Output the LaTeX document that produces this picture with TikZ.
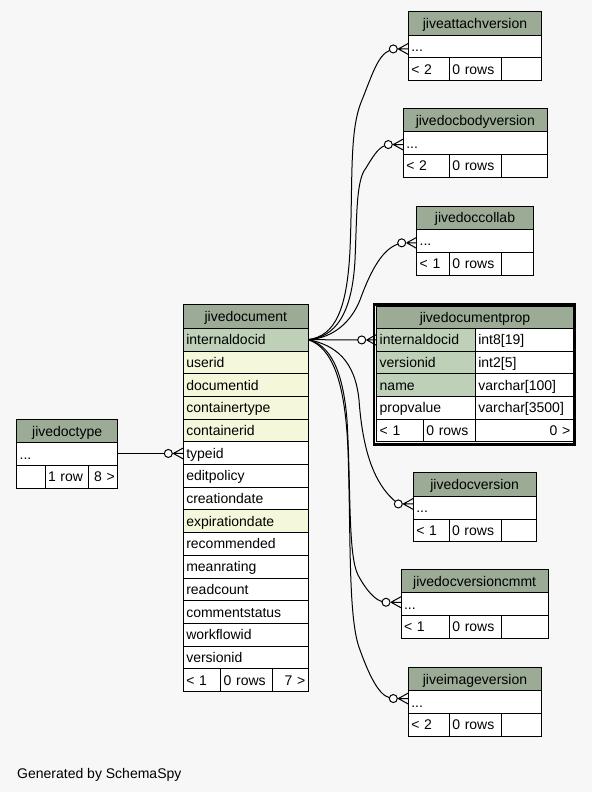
\documentclass[tikz,border=0pt]{standalone}
\usepackage{fontspec}
\setmainfont{Liberation Sans}
\usetikzlibrary{calc,positioning}
\definecolor{headgreen}{HTML}{9BAB96}
\definecolor{keygreen}{HTML}{BED1B8}
\definecolor{idxyellow}{HTML}{F4F7DA}
\definecolor{bggray}{HTML}{F7F7F7}
\newcommand{\crowfoot}[1]{\draw (#1.east) ++(1,0) -- ++(10,-5.5) (#1.east) ++(1,0) -- ++(10,0) (#1.east) ++(1,0) -- ++(10,5.5);}

\begin{document}
\begin{tikzpicture}[x=1pt,y=-1pt,line width=1pt,
  cell/.style={draw,rectangle,anchor=north west,inner xsep=3pt,inner ysep=0pt,outer sep=0pt,
    minimum height=22.7pt,text height=12pt,text depth=2pt,align=left,
    font=\fontsize{14}{16}\selectfont,fill=white},
  head/.style={cell,fill=headgreen,align=center,minimum height=23.6pt},
  pk/.style={fill=keygreen},
  idx/.style={fill=idxyellow},
  odot/.style={draw,circle,fill=white,inner sep=0pt,outer sep=0pt,minimum size=8pt}]
\fill[bggray] (0,0) rectangle (592,792);
\useasboundingbox (0,0) rectangle (592,792);
% jivedoctype
\node[head,text width=95pt] (type) at (16.7,419.3) {jivedoctype};
\node[cell,text width=95pt] (type-row) at (type.south west) {...};
\node[cell,text width=22.3pt] (type-f1) at (type-row.south west) {};
\node[cell,text width=37.3pt] (type-f2) at (type-f1.north east) {1 row};
\node[cell,text width=23.4pt,align=right] (type-f3) at (type-f2.north east) {8 >};
% jivedocument
\node[head,text width=119pt] (doc) at (183.3,304.7) {jivedocument};
\node[cell,pk,text width=119pt] (doc-internaldocid) at (doc.south west) {internaldocid};
\node[cell,idx,text width=119pt] (doc-userid) at (doc-internaldocid.south west) {userid};
\node[cell,idx,text width=119pt] (doc-documentid) at (doc-userid.south west) {documentid};
\node[cell,idx,text width=119pt] (doc-containertype) at (doc-documentid.south west) {containertype};
\node[cell,idx,text width=119pt] (doc-containerid) at (doc-containertype.south west) {containerid};
\node[cell,text width=119pt] (doc-typeid) at (doc-containerid.south west) {typeid};
\node[cell,text width=119pt] (doc-editpolicy) at (doc-typeid.south west) {editpolicy};
\node[cell,text width=119pt] (doc-creationdate) at (doc-editpolicy.south west) {creationdate};
\node[cell,idx,text width=119pt] (doc-expirationdate) at (doc-creationdate.south west) {expirationdate};
\node[cell,text width=119pt] (doc-recommended) at (doc-expirationdate.south west) {recommended};
\node[cell,text width=119pt] (doc-meanrating) at (doc-recommended.south west) {meanrating};
\node[cell,text width=119pt] (doc-readcount) at (doc-meanrating.south west) {readcount};
\node[cell,text width=119pt] (doc-commentstatus) at (doc-readcount.south west) {commentstatus};
\node[cell,text width=119pt] (doc-workflowid) at (doc-commentstatus.south west) {workflowid};
\node[cell,text width=119pt] (doc-versionid) at (doc-workflowid.south west) {versionid};
\node[cell,text width=31.4pt] (doc-f1) at (doc-versionid.south west) {< 1};
\node[cell,text width=46pt] (doc-f2) at (doc-f1.north east) {0 rows};
\node[cell,text width=29.6pt,align=right] (doc-f3) at (doc-f2.north east) {7 >};
% jivedocumentprop
\node[head,text width=190.6pt,minimum height=22.3pt] (prop) at (376.7,306) {jivedocumentprop};
\node[cell,pk,text width=92.6pt] (prop-internaldocid) at (prop.south west) {internaldocid};
\node[cell,text width=92pt] at (prop-internaldocid.north east) {int8[19]};
\node[cell,pk,text width=92.6pt] (prop-versionid) at (prop-internaldocid.south west) {versionid};
\node[cell,text width=92pt] at (prop-versionid.north east) {int2[5]};
\node[cell,pk,text width=92.6pt] (prop-name) at (prop-versionid.south west) {name};
\node[cell,text width=92pt] at (prop-name.north east) {varchar[100]};
\node[cell,text width=92.6pt] (prop-propvalue) at (prop-name.south west) {propvalue};
\node[cell,text width=92pt] at (prop-propvalue.north east) {varchar[3500]};
\node[cell,text width=40.6pt] (prop-f1) at (prop-propvalue.south west) {< 1};
\node[cell,text width=46pt] (prop-f2) at (prop-f1.north east) {0 rows};
\node[cell,text width=92pt,align=right] (prop-f3) at (prop-f2.north east) {0 >};
% jiveattachversion
\node[head,text width=127.4pt] (attach) at (408.3,11.7) {jiveattachversion};
\node[cell,text width=127.4pt] (attach-row) at (attach.south west) {...};
\node[cell,text width=35pt] (attach-f1) at (attach-row.south west) {< 2};
\node[cell,text width=46.4pt] (attach-f2) at (attach-f1.north east) {0 rows};
\node[cell,text width=34pt] (attach-f3) at (attach-f2.north east) {};
% jivedocbodyversion
\node[head,text width=138pt] (body) at (403.3,108.3) {jivedocbodyversion};
\node[cell,text width=138pt] (body-row) at (body.south west) {...};
\node[cell,text width=40pt] (body-f1) at (body-row.south west) {< 2};
\node[cell,text width=46pt] (body-f2) at (body-f1.north east) {0 rows};
\node[cell,text width=40pt] (body-f3) at (body-f2.north east) {};
% jivedoccollab
\node[head,text width=110.6pt] (collab) at (416.7,206) {jivedoccollab};
\node[cell,text width=110.6pt] (collab-row) at (collab.south west) {...};
\node[cell,text width=26.6pt] (collab-f1) at (collab-row.south west) {< 1};
\node[cell,text width=46pt] (collab-f2) at (collab-f1.north east) {0 rows};
\node[cell,text width=26pt] (collab-f3) at (collab-f2.north east) {};
% jivedocversion
\node[head,text width=116.7pt] (version) at (413.3,472.7) {jivedocversion};
\node[cell,text width=116.7pt] (version-row) at (version.south west) {...};
\node[cell,text width=29.7pt] (version-f1) at (version-row.south west) {< 1};
\node[cell,text width=46.7pt] (version-f2) at (version-f1.north east) {0 rows};
\node[cell,text width=28.3pt] (version-f3) at (version-f2.north east) {};
% jivedocversioncmmt
\node[head,text width=141.3pt] (cmmt) at (401,569.3) {jivedocversioncmmt};
\node[cell,text width=141.3pt] (cmmt-row) at (cmmt.south west) {...};
\node[cell,text width=42.3pt] (cmmt-f1) at (cmmt-row.south west) {< 1};
\node[cell,text width=46pt] (cmmt-f2) at (cmmt-f1.north east) {0 rows};
\node[cell,text width=41pt] (cmmt-f3) at (cmmt-f2.north east) {};
% jiveimageversion
\node[head,text width=127.4pt] (image) at (408.3,667.3) {jiveimageversion};
\node[cell,text width=127.4pt] (image-row) at (image.south west) {...};
\node[cell,text width=35pt] (image-f1) at (image-row.south west) {< 2};
\node[cell,text width=46pt] (image-f2) at (image-f1.north east) {0 rows};
\node[cell,text width=34.4pt] (image-f3) at (image-f2.north east) {};
% optional ends
\node[odot] (doc-o) at ($(doc-typeid.west)+(-15,0.3)$) {};
\node[odot] (prop-o) at ($(prop-internaldocid.west)+(-15,0.3)$) {};
\node[odot] (attach-o) at ($(attach-row.west)+(-15,2.3)$) {};
\node[odot] (body-o) at ($(body-row.west)+(-15,1.3)$) {};
\node[odot] (collab-o) at ($(collab-row.west)+(-15,1.9)$) {};
\node[odot] (version-o) at ($(version-row.west)+(-15,-3.7)$) {};
\node[odot] (cmmt-o) at ($(cmmt-row.west)+(-15,-2)$) {};
\node[odot] (image-o) at ($(image-row.west)+(-15,-3.7)$) {};
% relationships
\draw (type-row.east |- doc-o) -- (doc-o);
\draw (doc-internaldocid.east) -- (prop-o);
\draw (doc-internaldocid.east) .. controls (335,336) and (347,310) .. (350,250)
  .. controls (353,180) and (349,130) .. (362,100) .. controls (372,75) and (378,55) .. (attach-o);
\draw (doc-internaldocid.east) .. controls (335,337) and (352,315) .. (355,260)
  .. controls (357,215) and (356,180) .. (366,168) .. controls (372,158) and (378,148) .. (body-o);
\draw (doc-internaldocid.east) .. controls (335,338) and (352,320) .. (360,300)
  .. controls (368,278) and (380,250) .. (collab-o);
\draw (doc-internaldocid.east) .. controls (335,345) and (355,360) .. (359,400)
  .. controls (362,440) and (370,480) .. (version-o);
\draw (doc-internaldocid.east) .. controls (330,345) and (343,370) .. (347,420)
  .. controls (351,490) and (348,555) .. (358,575) .. controls (366,590) and (375,600) .. (cmmt-o);
\draw (doc-internaldocid.east) .. controls (332,348) and (345,380) .. (348,450)
  .. controls (351,540) and (348,620) .. (360,650) .. controls (368,672) and (378,695) .. (image-o);
\crowfoot{doc-o}
\crowfoot{prop-o}
\crowfoot{attach-o}
\crowfoot{body-o}
\crowfoot{collab-o}
\crowfoot{version-o}
\crowfoot{cmmt-o}
\crowfoot{image-o}
% frame of the selected table
\draw[line width=2.5pt] ([xshift=-2.7pt,yshift=1.5pt]prop.north west) rectangle ([xshift=1.2pt,yshift=-2.8pt]prop-f3.south east);
% credit
\node[anchor=west,inner sep=0pt,font=\fontsize{14}{16}\selectfont] (credit) at (16.7,775) {Generated by SchemaSpy};
\end{tikzpicture}
\end{document}
